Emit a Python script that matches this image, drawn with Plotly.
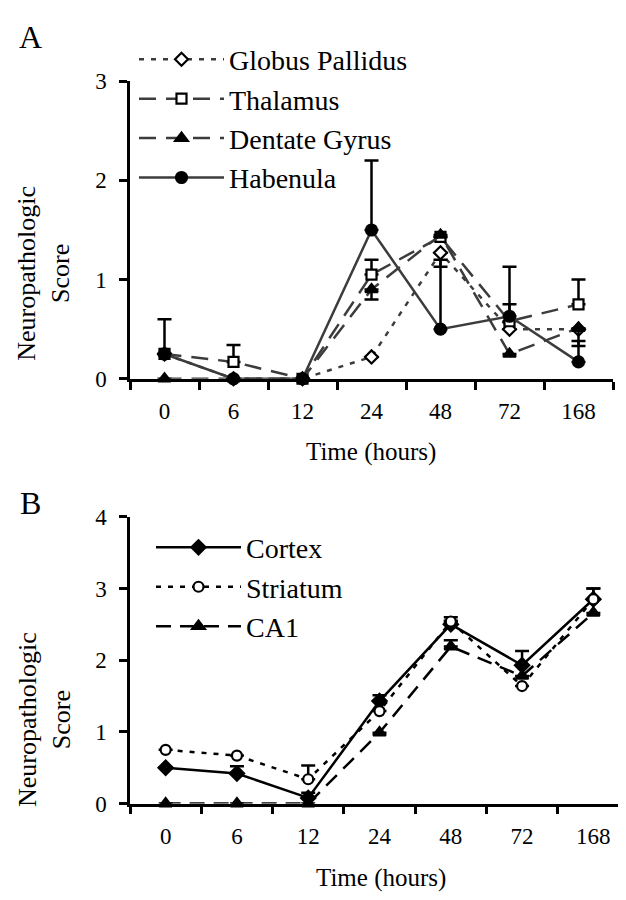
import plotly.graph_objects as go

# time points (hours)
hours = ["0", "6", "12", "24", "48", "72", "168"]

# panel A
globus = [0.25, 0, 0, 0.22, 1.27, 0.5, 0.5]
globus_up = [0, 0, 0, 0, 0, 0, 0]
globus_dn = [0, 0, 0, 0, 0.14, 0, 0]
thalamus = [0.25, 0.17, 0, 1.05, 1.43, 0.58, 0.75]
thalamus_up = [0, 0.17, 0, 0.15, 0, 0.17, 0.25]
dentate = [0, 0, 0, 0.9, 1.45, 0.25, 0.51]
dentate_dn = [0, 0, 0, 0.1, 0, 0, 0.18]
habenula = [0.25, 0, 0, 1.5, 0.5, 0.63, 0.17]
habenula_up = [0.35, 0, 0, 0.7, 0.7, 0.5, 0.21]

# panel B
cortex = [0.5, 0.42, 0.08, 1.43, 2.5, 1.93, 2.85]
cortex_up = [0, 0.1, 0.07, 0.08, 0.05, 0.2, 0.15]
striatum = [0.75, 0.67, 0.34, 1.29, 2.54, 1.64, 2.85]
striatum_up = [0, 0, 0.19, 0, 0.06, 0, 0.15]
ca1 = [0, 0, 0, 0.99, 2.19, 1.78, 2.66]
ca1_up = [0, 0, 0, 0, 0.09, 0, 0]

FONT = "'Liberation Serif', 'Times New Roman', serif"
W, H = 626, 900
GRAY = "#3c3c3c"


def err(up, dn=None):
    if dn is None:
        dn = [0] * len(up)
    return dict(type="data", array=up, arrayminus=dn, symmetric=False,
                color="black", thickness=2.5, width=7)


fig = go.Figure()

def add(name, y, e, dash, color, symbol, size, fill, xa, ya, leg):
    fig.add_trace(go.Scatter(
        x=hours, y=y, name=name, mode="lines+markers",
        line=dict(color=color, width=2.5, dash=dash),
        marker=dict(symbol=symbol, size=size, color=fill,
                    line=dict(color="black", width=2.2)),
        error_y=e, xaxis=xa, yaxis=ya, legend=leg, cliponaxis=False))

add("Globus Pallidus", globus, err(globus_up, globus_dn), "5px,7px", GRAY,
    "diamond", 10, "white", "x", "y", "legend")
add("Thalamus", thalamus, err(thalamus_up), "17px,10px", GRAY,
    "square", 10, "white", "x", "y", "legend")
add("Dentate Gyrus", dentate, err([0] * 7, dentate_dn), "17px,10px", GRAY,
    "triangle-up", 11, "black", "x", "y", "legend")
add("Habenula", habenula, err(habenula_up), "solid", GRAY,
    "circle", 11, "black", "x", "y", "legend")

add("Cortex", cortex, err(cortex_up), "solid", "black",
    "diamond", 11, "black", "x2", "y2", "legend2")
add("Striatum", striatum, err(striatum_up), "5px,7px", "black",
    "circle", 10, "white", "x2", "y2", "legend2")
add("CA1", ca1, err(ca1_up), "15px,9px", "black",
    "triangle-up", 11, "black", "x2", "y2", "legend2")

xax = dict(type="category", categoryorder="array", categoryarray=hours,
           range=[-0.5, 6.5], tickson="boundaries", ticks="outside",
           ticklen=8, tickwidth=2.5, tickcolor="black", showline=True,
           linecolor="black", linewidth=2.5, showgrid=False, zeroline=False,
           ticklabelstandoff=10,
           tickfont=dict(family=FONT, size=23, color="black"))
yax = dict(ticks="outside", ticklen=8, tickwidth=2.5, tickcolor="black",
           showline=True, linecolor="black", linewidth=2.5, showgrid=False,
           zeroline=False, dtick=1, ticklabelstandoff=8,
           tickfont=dict(family=FONT, size=23, color="black"))

legfont = dict(family=FONT, size=28, color="black")

fig.update_layout(
    width=W, height=H, paper_bgcolor="white", plot_bgcolor="white",
    margin=dict(l=0, r=0, t=0, b=0),
    font=dict(family=FONT, color="black"),
    xaxis=dict(xax, domain=[122 / W, 605 / W], anchor="y"),
    yaxis=dict(yax, domain=[1 - 369 / H, 1 - 63 / H], range=[0, 3], anchor="x"),
    xaxis2=dict(xax, domain=[122 / W, 621 / W], anchor="y2"),
    yaxis2=dict(yax, domain=[1 - 806 / H, 1 - 511 / H], range=[0, 4], anchor="x2"),
    legend=dict(x=126 / W, y=1 - 15 / H, xanchor="left", yanchor="top",
                bgcolor="rgba(0,0,0,0)", font=legfont, itemwidth=85,
                tracegroupgap=0),
    legend2=dict(x=143 / W, y=1 - 517 / H, xanchor="left", yanchor="top",
                 bgcolor="rgba(0,0,0,0)", font=legfont, itemwidth=85,
                 tracegroupgap=0),
    showlegend=True,
)

ann = [
    dict(text="A", x=22 / W, y=1 - 17 / H, size=32),
    dict(text="B", x=22 / W, y=1 - 497 / H, size=32),
    dict(text="Time (hours)", x=363 / W, y=1 - 444 / H, size=25),
    dict(text="Time (hours)", x=373 / W, y=1 - 882 / H, size=25),
]
for a in ann:
    fig.add_annotation(text=a["text"], x=a["x"], y=a["y"], xref="paper",
                       yref="paper", showarrow=False, xanchor="center",
                       yanchor="middle", font=dict(family=FONT, size=a["size"], color="black"))

for yc in [261, 720]:
    fig.add_annotation(text="Neuropathologic<br>Score", x=36 / W, y=1 - yc / H,
                       xref="paper", yref="paper", showarrow=False, textangle=-90,
                       xanchor="center", yanchor="middle",
                       font=dict(family=FONT, size=26, color="black"))

fig.write_html("out.html")
